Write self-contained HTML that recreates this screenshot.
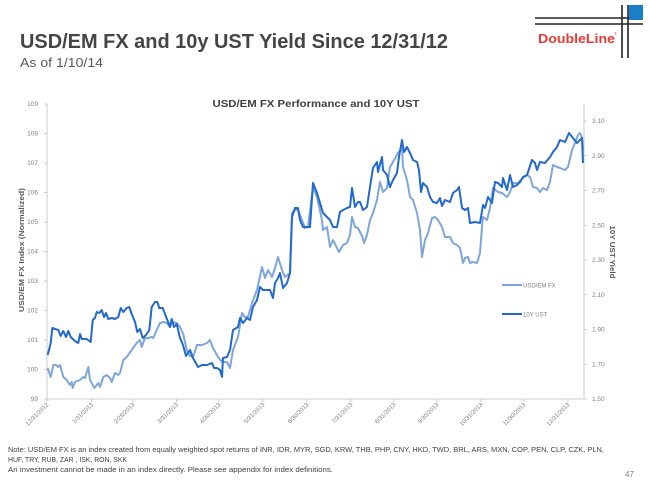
<!DOCTYPE html>
<html><head><meta charset="utf-8"><style>
html,body{margin:0;padding:0;background:#fff;}
svg{display:block;}
text{font-family:"Liberation Sans",sans-serif;}
</style></head><body>
<svg width="650" height="488" viewBox="0 0 650 488" xmlns="http://www.w3.org/2000/svg">
<rect width="650" height="488" fill="#fff"/>
<!-- Title -->
<text x="20" y="48" font-size="20" font-weight="bold" fill="#454545" textLength="428" lengthAdjust="spacingAndGlyphs">USD/EM FX and 10y UST Yield Since 12/31/12</text>
<text x="20" y="67" font-size="13" fill="#595959" textLength="83" lengthAdjust="spacingAndGlyphs">As of 1/10/14</text>
<!-- Logo -->
<line x1="535" y1="18" x2="643" y2="18" stroke="#222" stroke-width="1.6"/>
<line x1="535" y1="24" x2="643" y2="24" stroke="#222" stroke-width="1.6"/>
<line x1="622" y1="5" x2="622" y2="58" stroke="#222" stroke-width="1.6"/>
<line x1="628" y1="5" x2="628" y2="58" stroke="#222" stroke-width="1.6"/>
<rect x="629" y="5" width="14" height="15" fill="#1a7ec8"/>
<text x="538" y="43" font-size="13" font-weight="bold" fill="#e63c37" textLength="77" lengthAdjust="spacingAndGlyphs">DoubleLine</text>
<text x="614" y="35" font-size="4" fill="#e63c37">®</text>
<!-- Chart title -->
<text x="316" y="107" font-size="10.5" font-weight="bold" fill="#404040" text-anchor="middle" textLength="207" lengthAdjust="spacingAndGlyphs">USD/EM FX Performance and 10Y UST</text>
<!-- Axes -->
<g stroke="#bfbfbf" stroke-width="0.8" fill="none">
<line x1="47" y1="104" x2="47" y2="399"/>
<line x1="584" y1="104" x2="584" y2="399"/>
<line x1="47" y1="399" x2="584" y2="399"/>
<!-- left ticks -->
<path d="M44 104H47M44 133.5H47M44 163H47M44 192.5H47M44 222H47M44 251.5H47M44 281H47M44 310.5H47M44 340H47M44 369.5H47M44 399H47"/>
<!-- right ticks -->
<path d="M584 121H587M584 155.75H587M584 190.5H587M584 225.25H587M584 260H587M584 294.75H587M584 329.5H587M584 364.25H587M584 399H587"/>
<!-- x ticks -->
<path d="M47 399V402M91.5 399V402M133 399V402M176.5 399V402M219 399V402M263 399V402M307 399V402M351 399V402M394 399V402M437 399V402M481 399V402M524 399V402M568 399V402"/>
</g>
<g font-size="6.5" fill="#7f7f7f" text-anchor="end">
<text x="38" y="106">109</text>
<text x="38" y="135.5">108</text>
<text x="38" y="165">107</text>
<text x="38" y="194.5">106</text>
<text x="38" y="224">105</text>
<text x="38" y="253.5">104</text>
<text x="38" y="283">103</text>
<text x="38" y="312.5">102</text>
<text x="38" y="342">101</text>
<text x="38" y="371.5">100</text>
<text x="38" y="401">99</text>
</g>
<g font-size="6.5" fill="#7f7f7f">
<text x="592" y="123">3.10</text>
<text x="592" y="157.75">2.90</text>
<text x="592" y="192.5">2.70</text>
<text x="592" y="227.25">2.50</text>
<text x="592" y="262">2.30</text>
<text x="592" y="296.75">2.10</text>
<text x="592" y="331.5">1.90</text>
<text x="592" y="366.25">1.70</text>
<text x="592" y="401">1.50</text>
</g>
<g font-size="6" fill="#7f7f7f" text-anchor="end">
<text transform="translate(49,405) rotate(-45)">12/31/2012</text>
<text transform="translate(93.5,405) rotate(-45)">1/31/2013</text>
<text transform="translate(135,405) rotate(-45)">2/28/2013</text>
<text transform="translate(178.5,405) rotate(-45)">3/31/2013</text>
<text transform="translate(221,405) rotate(-45)">4/30/2013</text>
<text transform="translate(265,405) rotate(-45)">5/31/2013</text>
<text transform="translate(309,405) rotate(-45)">6/30/2013</text>
<text transform="translate(353,405) rotate(-45)">7/31/2013</text>
<text transform="translate(396,405) rotate(-45)">8/31/2013</text>
<text transform="translate(439,405) rotate(-45)">9/30/2013</text>
<text transform="translate(483,405) rotate(-45)">10/31/2013</text>
<text transform="translate(526,405) rotate(-45)">11/30/2013</text>
<text transform="translate(570,405) rotate(-45)">12/31/2013</text>
</g>
<!-- axis titles -->
<text transform="translate(24,250) rotate(-90)" font-size="7.5" font-weight="bold" fill="#595959" text-anchor="middle" textLength="124" lengthAdjust="spacingAndGlyphs">USD/EM FX Index (Normalized)</text>
<text transform="translate(610,252) rotate(90)" font-size="7.5" font-weight="bold" fill="#595959" text-anchor="middle" textLength="53" lengthAdjust="spacingAndGlyphs">10Y UST Yield</text>
<!-- Series: USD/EM FX (light) -->
<polyline fill="none" stroke="#7ea6da" stroke-width="2" stroke-linejoin="round" points="47.7,368 50.7,377 53.3,365 56,365 58.3,367 60,365 63.3,377 66.7,380 70,385 71.7,382 72.7,388 75,382 80,380 83.3,377 85,378 88.3,367 90,380 94.3,388 98.3,383 100,387 103.3,377 106.7,375 110,378 111.7,382 115,373 118.3,375 120,373 123.3,360 126.7,357 131.7,350 136.7,343 140,340 141.7,347 145,338 148.3,338 151.7,337 153.3,338 156.7,330 160,323 163.3,322 166.7,323 170,327 171.7,322 176.7,323 180,327 183.3,334 186.7,350 190,356 193,357 197,345 202,345 207,343 210,340 213,348 218,357 222,362 227,362 230,368 233,350 238,337 242,313 245,317 248,317 252,303 257,290 262,267 265,278 268,270 272,277 275,268 278,257 282,270 285,277 290,273 292,213 295,210 298,210 302,220 305,228 308,227 313,187 317,197 322,220 323,230 327,227 330,247 333,240 337,248 339,252 343,245 347,243 350,235 352,217 355,227 358,228 362,236 364,243 367,235 370,220 373,213 377,200 380,182 383,192 387,188 390,167 393,162 398,153 402,148 403,167 407,180 410,197 413,200 417,213 420,230 422,257 425,240 428,233 432,218 435,217 438,220 442,227 445,237 450,237 453,243 457,245 460,248 463,263 465,258 468,257 470,263 473,262 477,263 480,253 482,227 483,217 487,220 490,208 493,188 498,192 502,193 507,197 510,192 513,183 518,183 523,178 527,175 530,177 533,187 537,188 540,192 543,188 547,190 550,182 553,165 557,167 560,168 565,170 568,167 572,150 575,143 578,135 580,133 582,138 583,150"/>
<!-- Series: 10Y UST (dark) -->
<polyline fill="none" stroke="#2369cc" stroke-width="2" stroke-linejoin="round" points="47.7,355 50.7,343 52.3,328 55,329 58.3,330 60.7,336 63.3,331 66,337 68.3,331 70.7,337 75,341 78.3,343 80,334 81.7,339 86.7,339 90.7,342 92.7,320 95,318 96.7,312 99.3,313 101.7,310 104,317 106,313 108.3,319 111.7,318 115,319 118.3,317 120.7,308 123.3,312 126.7,308 129.3,307 131.7,314 135,322 137.3,332 140,329 142.7,338 146,335 149.3,330 151.7,307 155,302 157.3,302 159.3,308 162.7,308 165,314 167.3,320 170,327 171.7,319 174,327 176.7,324 180,338 183,345 186,356 190,350 193,358 198,367 202,365 207,365 212,363 214,368 217,368 220,370 222,377 223,358 227,357 230,350 233,330 238,327 240,318 243,323 247,318 250,320 253,307 257,300 260,287 263,290 267,290 270,290 273,298 275,283 278,278 280,273 283,288 287,283 290,273 292,217 295,208 298,208 300,220 303,227 307,227 310,227 313,183 317,193 320,203 323,213 327,217 330,220 333,227 337,227 340,212 343,210 347,208 350,207 352,188 355,207 358,202 360,202 363,210 367,207 370,187 373,168 377,162 378,172 382,157 383,170 387,175 390,187 393,180 397,173 399,157 402,140 404,152 407,147 410,153 413,160 417,162 419,170 421,192 423,183 427,187 430,197 433,202 437,203 440,198 442,206 445,200 450,202 453,193 457,190 459,187 462,208 465,210 468,208 470,223 475,222 480,223 483,205 485,208 488,197 492,203 495,182 498,183 502,187 503,178 507,190 510,175 513,187 517,185 520,182 523,177 527,175 532,160 535,163 537,170 540,162 545,163 550,157 553,152 557,147 560,140 565,142 569,133 573,138 577,143 580,140 582,138 583,163"/>
<!-- Legend -->
<line x1="502" y1="285" x2="522" y2="285" stroke="#7ea6da" stroke-width="2"/>
<text x="523" y="287.5" font-size="6" fill="#7f7f7f">USD/EM FX</text>
<line x1="502" y1="314" x2="522" y2="314" stroke="#2369cc" stroke-width="2"/>
<text x="523" y="316.5" font-size="6" fill="#7f7f7f">10Y UST</text>
<!-- Footnotes -->
<g font-size="7" fill="#404040">
<text x="8" y="452" textLength="596" lengthAdjust="spacingAndGlyphs">Note: USD/EM FX is an index created from equally weighted spot returns of INR, IDR, MYR, SGD, KRW, THB, PHP, CNY, HKD, TWD, BRL, ARS, MXN, COP, PEN, CLP, CZK, PLN,</text>
<text x="8" y="462" textLength="119" lengthAdjust="spacingAndGlyphs">HUF, TRY, RUB, ZAR , ISK, RON, SKK</text>
<text x="8" y="472" textLength="325" lengthAdjust="spacingAndGlyphs">An investment cannot be made in an index directly. Please see appendix for index definitions.</text>
</g>
<text x="625" y="477" font-size="8" fill="#7f7f7f">47</text>
</svg>
</body></html>
